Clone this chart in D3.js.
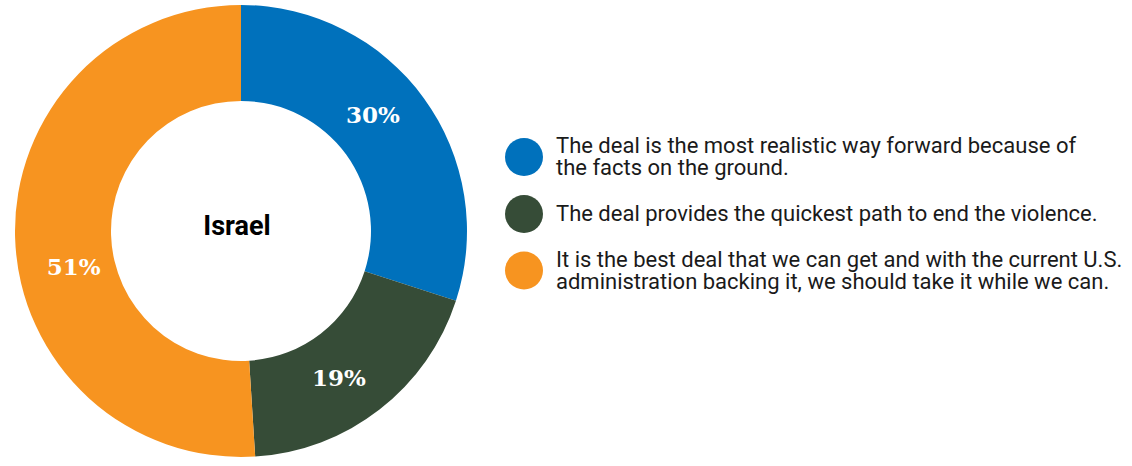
<!DOCTYPE html>
<html>
<head>
<meta charset="utf-8">
<script src="https://cdn.jsdelivr.net/npm/d3@7"></script>
<style>
  html, body { margin: 0; padding: 0; background: #ffffff; }
  svg { display: block; }
</style>
</head>
<body>
<svg id="chart" width="1132" height="466"></svg>
<script>
// Survey responses: reasons for supporting the deal (Israel)
const categories = [
  "The deal is the most realistic way forward because of the facts on the ground.",
  "The deal provides the quickest path to end the violence.",
  "It is the best deal that we can get and with the current U.S. administration backing it, we should take it while we can."
];
const values = [30, 19, 51];
const legendLines = [
  ["The deal is the most realistic way forward because of", "the facts on the ground."],
  ["The deal provides the quickest path to end the violence."],
  ["It is the best deal that we can get and with the current U.S.", "administration backing it, we should take it while we can."]
];
const colors = ["#0071bc", "#364c37", "#f79420"];
const centerTitle = "Israel";

const svg = d3.select("#chart");
const cx = 241, cy = 231;
const outerR = 226, innerR = 130;

const pie = d3.pie().sort(null).value(d => d)(values);
const arc = d3.arc().innerRadius(innerR).outerRadius(outerR);

const g = svg.append("g").attr("transform", `translate(${cx},${cy})`);

g.selectAll("path.slice")
  .data(pie)
  .join("path")
  .attr("class", "slice")
  .attr("d", arc)
  .attr("fill", (d, i) => colors[i]);

// Percent labels placed along the ring, nudged slightly around the arc
const labelNudgeDeg = [-5.5, 4, -10];
const labelR = [176, 176, 171];
g.selectAll("text.pct")
  .data(pie)
  .join("text")
  .attr("class", "pct")
  .attr("transform", (d, i) => {
    const a = (d.startAngle + d.endAngle) / 2 + labelNudgeDeg[i] * Math.PI / 180;
    return `translate(${Math.sin(a) * labelR[i]},${-Math.cos(a) * labelR[i]})`;
  })
  .attr("text-anchor", "middle")
  .attr("dy", "0.38em")
  .attr("fill", "#ffffff")
  .style("font-family", "'DejaVu Serif', 'Liberation Serif', serif")
  .style("font-weight", "bold")
  .style("font-size", "23px")
  .text(d => d.value + "%");

g.append("text")
  .attr("x", -4)
  .attr("y", 4)
  .attr("text-anchor", "middle")
  .attr("fill", "#000000")
  .style("font-family", "Roboto, 'Open Sans', sans-serif")
  .style("font-weight", "bold")
  .style("font-size", "27px")
  .text(centerTitle);

// Legend
const legendY = [157, 214, 270.5];
const firstBaseline = [152.5, 220.5, 266.5];
const legend = svg.append("g");
legend.selectAll("circle")
  .data(categories)
  .join("circle")
  .attr("cx", 524)
  .attr("cy", (d, i) => legendY[i])
  .attr("r", 19)
  .attr("fill", (d, i) => colors[i]);

const lt = legend.selectAll("text")
  .data(legendLines)
  .join("text")
  .attr("x", 556)
  .attr("y", (d, i) => firstBaseline[i])
  .attr("fill", "#1a1a1a")
  .style("font-family", "Roboto, sans-serif")
  .style("font-size", "22px");
lt.selectAll("tspan")
  .data(d => d)
  .join("tspan")
  .attr("x", 556)
  .attr("dy", (d, j) => j === 0 ? 0 : 22.5)
  .text(d => d);
</script>
</body>
</html>
